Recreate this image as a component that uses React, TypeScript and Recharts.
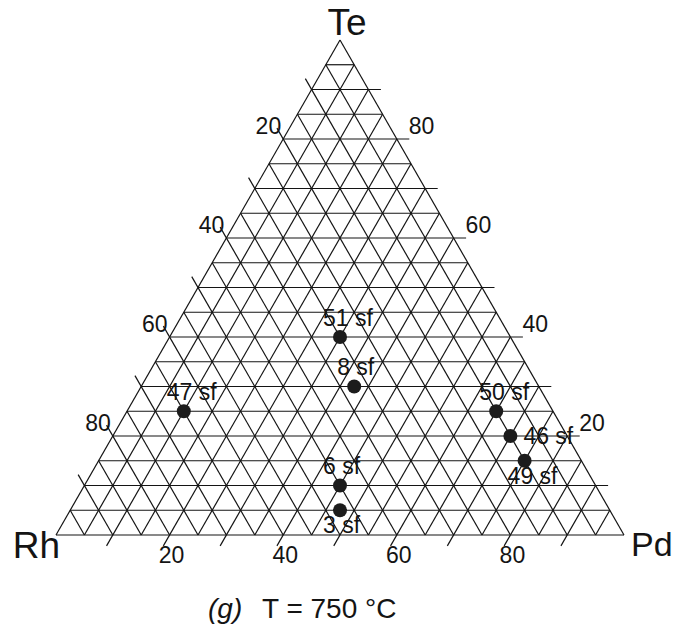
import React from "react";
import { ReferenceLine, Scatter, ScatterChart, XAxis, YAxis } from "recharts";

// Te-Pd-Rh compositions (at.%)
const samples = ["51 sf", "8 sf", "47 sf", "50 sf", "46 sf", "49 sf", "6 sf", "3 sf"];
const te = [40, 30, 25, 25, 20, 15, 10, 5];
const pd = [30, 37.5, 10, 65, 70, 75, 45, 47.5];
const rh = [30, 32.5, 65, 10, 10, 10, 45, 47.5];

const tickValues = [20, 40, 60, 80];
const gridStep = 5;
const majorStep = 10;
const corners = ["Te", "Rh", "Pd"];
const panel = "(g)";
const caption = "T = 750 °C";

const FONT = "'Liberation Sans', Arial, Helvetica, sans-serif";
const INK = "#141414";
const SQ = Math.sqrt(3) / 2;
const TICK_LEN = 2.2;

// pixel <-> unit: base runs 56..624 px, apex height 495 px
const PX_X = 5.68;
const PX_Y = 5.716;
const W = 675;
const H = 628;
const xDomain: [number, number] = [-56 / PX_X, (W - 56) / PX_X];
const yDomain: [number, number] = [-(H - 535) / PX_Y, 535 / PX_Y];

function toXY(t: number, p: number, r: number) {
  const s = t + p + r;
  const tt = (t / s) * 100;
  const pp = (p / s) * 100;
  return { x: pp + tt / 2, y: tt * SQ };
}

type Seg = [{ x: number; y: number }, { x: number; y: number }];

const segments: Seg[] = [];
// outline
segments.push([{ x: 0, y: 0 }, { x: 100, y: 0 }]);
segments.push([{ x: 0, y: 0 }, { x: 50, y: 100 * SQ }]);
segments.push([{ x: 100, y: 0 }, { x: 50, y: 100 * SQ }]);
for (let v = gridStep; v < 100; v += gridStep) {
  const major = v % majorStep === 0;
  const ext = major ? TICK_LEN : 0;
  // constant Te (horizontal), tick to the right
  segments.push([
    { x: v / 2, y: v * SQ },
    { x: 100 - v / 2 + ext, y: v * SQ },
  ]);
  // constant Pd, tick below the base
  segments.push([
    { x: v - ext / 2, y: -ext * SQ },
    { x: v + (100 - v) / 2, y: (100 - v) * SQ },
  ]);
  // constant Rh, tick beyond the left edge
  segments.push([
    { x: 100 - v, y: 0 },
    { x: (100 - v) / 2 - ext / 2, y: (100 - v + ext) * SQ },
  ]);
}

const points = samples.map((name, i) => ({
  name,
  ...toXY(te[i], pd[i], rh[i]),
}));

const labelSide: Record<string, "above" | "below" | "right"> = {
  "46 sf": "right",
  "49 sf": "below",
  "3 sf": "below",
};

type Label = { x: number; y: number; text: string; kind: string };
const labels: Label[] = [];
tickValues.forEach((v) => {
  labels.push({ ...toXY(0, v, 100 - v), text: String(v), kind: "bottom" });
  labels.push({ ...toXY(v, 100 - v, 0), text: String(v), kind: "right" });
  labels.push({ ...toXY(100 - v, 0, v), text: String(v), kind: "left" });
});
labels.push({ ...toXY(100, 0, 0), text: corners[0], kind: "top" });
labels.push({ ...toXY(0, 0, 100), text: corners[1], kind: "rh" });
labels.push({ ...toXY(0, 100, 0), text: corners[2], kind: "pd" });
labels.push({ ...toXY(0, 50, 50), text: caption, kind: "caption" });

const labelStyle: Record<string, { dx: number; dy: number; anchor: string; size: number }> = {
  bottom: { dx: 2, dy: 28, anchor: "middle", size: 23 },
  right: { dx: 12, dy: -5, anchor: "start", size: 23 },
  left: { dx: -2, dy: -5, anchor: "end", size: 23 },
  top: { dx: 7, dy: -5, anchor: "middle", size: 37 },
  rh: { dx: 4, dy: 23, anchor: "end", size: 37 },
  pd: { dx: 7, dy: 21, anchor: "start", size: 34 },
};

function TextMark(props: any) {
  const { cx, cy, payload } = props;
  if (payload.kind === "caption") {
    return (
      <text x={cx - 132} y={cy + 83} fontFamily={FONT} fontSize={28} fill={INK}>
        <tspan fontStyle="italic">{panel}</tspan>
        <tspan x={cx - 78}>{payload.text}</tspan>
      </text>
    );
  }
  const s = labelStyle[payload.kind];
  return (
    <text
      x={cx + s.dx}
      y={cy + s.dy}
      textAnchor={s.anchor as any}
      fontFamily={FONT}
      fontSize={s.size}
      fill={INK}
    >
      {payload.text}
    </text>
  );
}

function SampleDot(props: any) {
  const { cx, cy, payload } = props;
  const side = labelSide[payload.name] ?? "above";
  const off =
    side === "right" ? { dx: 13, dy: 8 } : side === "below" ? { dx: -17, dy: 23 } : { dx: -17, dy: -11 };
  return (
    <g>
      <circle cx={cx} cy={cy} r={7} fill="#1c1c1c" />
      <text x={cx + off.dx} y={cy + off.dy} fontFamily={FONT} fontSize={23} fill={INK}>
        {payload.name}
      </text>
    </g>
  );
}

export default function App() {
  return (
    <div style={{ position: "absolute", left: 0, top: 0, width: W, height: H, background: "#fff" }}>
      <ScatterChart width={W} height={H} margin={{ top: 0, right: 0, bottom: 0, left: 0 }}>
        <XAxis type="number" dataKey="x" domain={xDomain} allowDataOverflow hide />
        <YAxis type="number" dataKey="y" domain={yDomain} allowDataOverflow hide />
        {segments.map((seg, i) => (
          <ReferenceLine key={i} segment={seg} stroke={INK} strokeWidth={1.2} ifOverflow="visible" />
        ))}
        <Scatter data={labels} shape={TextMark} isAnimationActive={false} />
        <Scatter data={points} shape={SampleDot} isAnimationActive={false} />
      </ScatterChart>
    </div>
  );
}
